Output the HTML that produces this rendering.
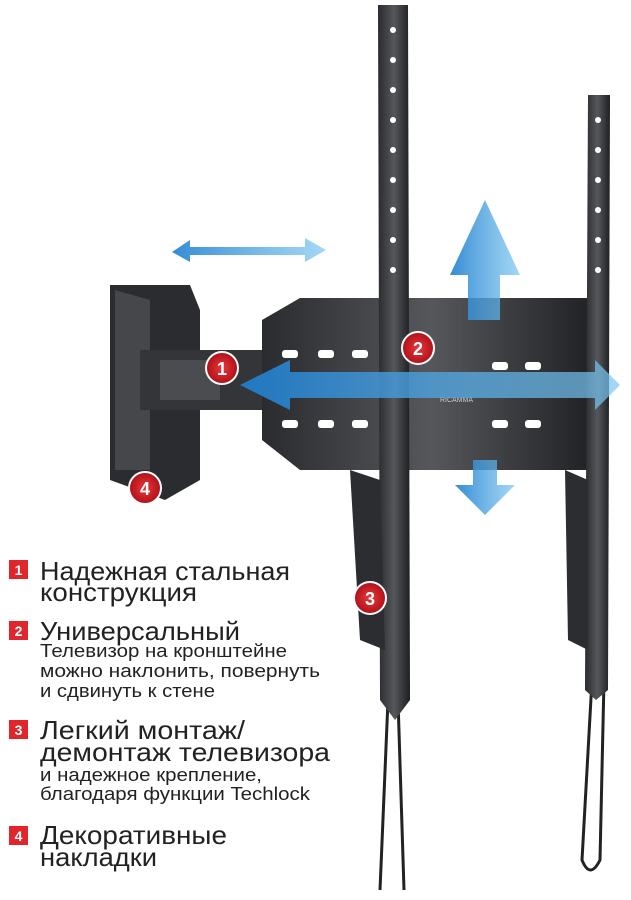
<!DOCTYPE html><html><head><meta charset="utf-8"><style>body{margin:0;background:#fff}svg{display:block}</style></head><body>
<svg width="631" height="900" viewBox="0 0 631 900" xmlns="http://www.w3.org/2000/svg" font-family="Liberation Sans, sans-serif">
<defs>
<linearGradient id="m" x1="0" x2="1"><stop offset="0" stop-color="#2a2b2e"/><stop offset=".5" stop-color="#55575b"/><stop offset="1" stop-color="#1e1f22"/></linearGradient>
<linearGradient id="b" x1="0" x2="1"><stop offset="0" stop-color="#1f7fd0" stop-opacity=".9"/><stop offset="1" stop-color="#7cc6f0" stop-opacity=".7"/></linearGradient>
<radialGradient id="r"><stop offset="0" stop-color="#e8383d"/><stop offset="1" stop-color="#b01018"/></radialGradient>
</defs>
<path d="M388 700 L380 890 M398 700 L404 890 M592 680 L582 860 Q590 880 600 860 L604 680" stroke="#222" stroke-width="3" fill="none"/>
<path d="M110 285 L190 285 L200 310 L200 480 L165 500 L110 480 Z" fill="#2b2c2f"/>
<path d="M115 290 L150 300 L150 470 L115 470 Z" fill="#45474b"/>
<rect x="140" y="350" width="130" height="60" fill="#333538"/>
<rect x="160" y="360" width="60" height="40" fill="#4a4c50"/>
<path d="M262 320 L300 298 L600 298 L600 470 L300 470 L262 440 Z" fill="url(#m)"/>
<g fill="#fff"><rect x="282" y="350" width="16" height="8" rx="3"/><rect x="318" y="350" width="16" height="8" rx="3"/><rect x="352" y="350" width="16" height="8" rx="3"/><rect x="282" y="420" width="16" height="8" rx="3"/><rect x="318" y="420" width="16" height="8" rx="3"/><rect x="352" y="420" width="16" height="8" rx="3"/><rect x="492" y="362" width="16" height="8" rx="3"/><rect x="525" y="362" width="16" height="8" rx="3"/><rect x="492" y="420" width="16" height="8" rx="3"/><rect x="525" y="420" width="16" height="8" rx="3"/></g>
<text x="440" y="402" font-size="7" fill="#ccc">RICAMMA</text>
<path d="M378 5 L408 5 L410 700 L395 720 L380 700 Z" fill="url(#m)"/>
<path d="M350 470 L380 480 L385 650 L360 640 Z" fill="#2c2d30"/>
<path d="M588 95 L610 95 L608 690 L596 700 L585 690 Z" fill="url(#m)"/>
<path d="M565 470 L588 480 L588 650 L568 640 Z" fill="#2c2d30"/>
<g fill="#fff"><circle cx="393" cy="30" r="3"/><circle cx="393" cy="60" r="3"/><circle cx="393" cy="90" r="3"/><circle cx="393" cy="120" r="3"/><circle cx="393" cy="150" r="3"/><circle cx="393" cy="180" r="3"/><circle cx="393" cy="210" r="3"/><circle cx="393" cy="240" r="3"/><circle cx="393" cy="270" r="3"/><circle cx="598" cy="120" r="3"/><circle cx="598" cy="150" r="3"/><circle cx="598" cy="180" r="3"/><circle cx="598" cy="210" r="3"/><circle cx="598" cy="240" r="3"/><circle cx="598" cy="270" r="3"/></g>
<path d="M172 252 L190 240 L190 247 L305 247 L305 238 L326 250 L305 262 L305 255 L190 255 L190 262 Z" fill="url(#b)"/>
<path d="M240 385 L290 360 L290 372 L595 372 L595 360 L620 385 L595 410 L595 398 L290 398 L290 410 Z" fill="url(#b)"/>
<path d="M485 200 L520 275 L500 275 L500 320 L468 320 L468 275 L450 275 Z" fill="url(#b)"/>
<path d="M485 515 L515 485 L497 485 L497 460 L473 460 L473 485 L455 485 Z" fill="url(#b)"/>
<g fill="url(#r)" stroke="#fff" stroke-width="2"><circle cx="222" cy="368" r="16"/><circle cx="418" cy="348" r="16"/><circle cx="370" cy="598" r="16"/><circle cx="145" cy="488" r="16"/></g>
<g fill="#fff" font-weight="bold" font-size="18" text-anchor="middle"><text x="222" y="375">1</text><text x="418" y="355">2</text><text x="370" y="605">3</text><text x="145" y="495">4</text></g>
<g fill="#e0262c"><rect x="9" y="560" width="19" height="19"/><rect x="9" y="621" width="19" height="19"/><rect x="9" y="720" width="19" height="19"/><rect x="9" y="826" width="19" height="19"/></g>
<g fill="#fff" font-weight="bold" font-size="14" text-anchor="middle"><text x="18.5" y="575">1</text><text x="18.5" y="636">2</text><text x="18.5" y="735">3</text><text x="18.5" y="841">4</text></g>
<g fill="#222" font-size="26">
<text x="40" y="580" textLength="250" lengthAdjust="spacingAndGlyphs">Надежная стальная</text><text x="40" y="601" textLength="157" lengthAdjust="spacingAndGlyphs">конструкция</text>
<text x="40" y="640" textLength="200" lengthAdjust="spacingAndGlyphs">Универсальный</text>
<text x="40" y="739" textLength="205" lengthAdjust="spacingAndGlyphs">Легкий монтаж/</text><text x="40" y="761" textLength="290" lengthAdjust="spacingAndGlyphs">демонтаж телевизора</text>
<text x="40" y="844" textLength="187" lengthAdjust="spacingAndGlyphs">Декоративные</text><text x="40" y="866" textLength="117" lengthAdjust="spacingAndGlyphs">накладки</text></g>
<g fill="#222" font-size="18">
<text x="40" y="657" textLength="247" lengthAdjust="spacingAndGlyphs">Телевизор на кронштейне</text><text x="40" y="677" textLength="280" lengthAdjust="spacingAndGlyphs">можно наклонить, повернуть</text><text x="40" y="697" textLength="175" lengthAdjust="spacingAndGlyphs">и сдвинуть к стене</text>
<text x="40" y="781" textLength="222" lengthAdjust="spacingAndGlyphs">и надежное крепление,</text><text x="40" y="800" textLength="270" lengthAdjust="spacingAndGlyphs">благодаря функции Techlock</text></g>
</svg></body></html>
